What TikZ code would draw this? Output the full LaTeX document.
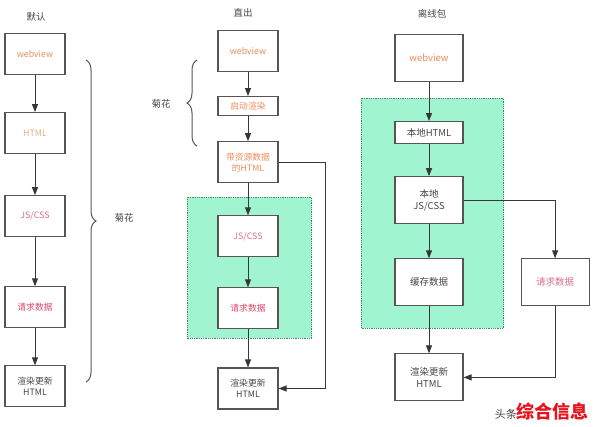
\documentclass[tikz,border=0pt]{standalone}
\usepackage{fontspec}
\setmainfont{Noto Sans CJK SC}
\usepackage{tikz}
\usetikzlibrary{positioning,arrows.meta,decorations.pathreplacing,backgrounds}
\usepackage{xcolor}

\definecolor{mint}{RGB}{160,244,208}
\definecolor{regionline}{RGB}{80,130,105}
\definecolor{boxline}{RGB}{85,85,85}
\definecolor{flowline}{RGB}{55,55,55}
\definecolor{titlegray}{RGB}{70,70,70}
\definecolor{weborange}{RGB}{240,140,90}
\definecolor{paleorange}{RGB}{225,175,130}
\definecolor{softpink}{RGB}{220,110,140}
\definecolor{reqred}{RGB}{225,70,105}
\definecolor{wmred}{RGB}{230,20,30}

\begin{document}
\begin{tikzpicture}[x=1pt,y=1pt,
    box/.style={draw=boxline,line width=1.1pt,fill=white,minimum width=60pt,
      minimum height=41pt,align=center,inner sep=1pt,text=titlegray,
      font=\fontsize{8.8}{11}\selectfont},
    widebox/.style={box,minimum width=68pt,minimum height=47pt,
      font=\fontsize{9.5}{12}\selectfont},
    flow/.style={draw=flowline,line width=1pt,-{Triangle[length=8pt,width=6pt]}},
    region/.style={fill=mint,draw=regionline,densely dotted,line width=0.8pt},
    title/.style={font=\fontsize{9.5}{11}\selectfont,text=titlegray},
    brace/.style={decorate,decoration={brace,amplitude=10pt},draw=boxline,line width=1pt}]

  \useasboundingbox (0,0) rectangle (594,-426);

  % default loading
  \node[title] (title default) at (36,-17) {默认};
  \node[box,text=weborange] (c1 web) at (35,-54) {webview};
  \node[box,text=paleorange,below=37pt of c1 web] (c1 html) {HTML};
  \node[box,text=softpink,below=41pt of c1 html] (c1 js) {JS/CSS};
  \node[box,text=reqred,below=49pt of c1 js] (c1 req) {请求数据};
  \node[box,below=37pt of c1 req] (c1 render) {渲染更新\\HTML};
  \draw[flow] (c1 web) -- (c1 html);
  \draw[flow] (c1 html) -- (c1 js);
  \draw[flow] (c1 js) -- (c1 req);
  \draw[flow] (c1 req) -- (c1 render);
  \draw[brace] (86,-60) -- (86,-382);
  \node[title] (c1 spin) at (124,-218) {菊花};

  % server rendered
  \node[title] (title direct) at (243,-13) {直出};
  \node[box,text=weborange] (c2 web) at (248,-51) {webview};
  \node[box,text=weborange,minimum height=19pt,below=24pt of c2 web] (c2 start) {启动渲染};
  \node[box,text=weborange,below=25pt of c2 start] (c2 html) {带资源数据\\的HTML};
  \node[box,text=softpink,below=32pt of c2 html] (c2 js) {JS/CSS};
  \node[box,text=reqred,below=30pt of c2 js] (c2 req) {请求数据};
  \node[box,below=38pt of c2 req] (c2 render) {渲染更新\\HTML};
  \begin{scope}[on background layer]
    \draw[region] ([xshift=-30pt,yshift=18pt]c2 js.north west) rectangle
      ([xshift=33pt,yshift=-9pt]c2 req.south east);
  \end{scope}
  \draw[flow] (c2 web) -- (c2 start);
  \draw[flow] (c2 start) -- (c2 html);
  \draw[flow] (c2 html) -- (c2 js);
  \draw[flow] (c2 js) -- (c2 req);
  \draw[flow] (c2 req) -- (c2 render);
  \draw[flow] (c2 html.east) -- ++(47pt,0) |- (c2 render.east);
  \draw[brace] (197,-146) -- (197,-60);
  \node[title] (c2 spin) at (161,-104) {菊花};

  % offline package
  \node[title] (title offline) at (432,-14) {离线包};
  \node[widebox,text=weborange] (c3 web) at (429,-58) {webview};
  \node[widebox,minimum height=22pt,below=39pt of c3 web] (c3 html) {本地HTML};
  \node[widebox,below=32pt of c3 html] (c3 js) {本地\\JS/CSS};
  \node[widebox,below=34pt of c3 js] (c3 cache) {缓存数据};
  \node[widebox,text=softpink,right=57pt of c3 cache] (c3 req) {请求数据};
  \node[widebox,below=47pt of c3 cache] (c3 render) {渲染更新\\HTML};
  \begin{scope}[on background layer]
    \draw[region] ([xshift=-33pt,yshift=23pt]c3 html.north west) rectangle
      ([xshift=40pt,yshift=-22pt]c3 cache.south east);
  \end{scope}
  \draw[flow] (c3 web) -- (c3 html);
  \draw[flow] (c3 html) -- (c3 js);
  \draw[flow] (c3 js) -- (c3 cache);
  \draw[flow] (c3 cache) -- (c3 render);
  \draw[flow] (c3 js.east) -| (c3 req.north);
  \draw[flow] (c3 req.south) |- (c3 render.east);

  % watermark
  \node[anchor=east,inner sep=0pt] (wm main) at (589,-412)
    {\fontsize{11}{13}\selectfont\textcolor{titlegray}{头条}\fontsize{18}{20}\selectfont\bfseries\textcolor{wmred}{综合信息}};
\end{tikzpicture}
\end{document}
